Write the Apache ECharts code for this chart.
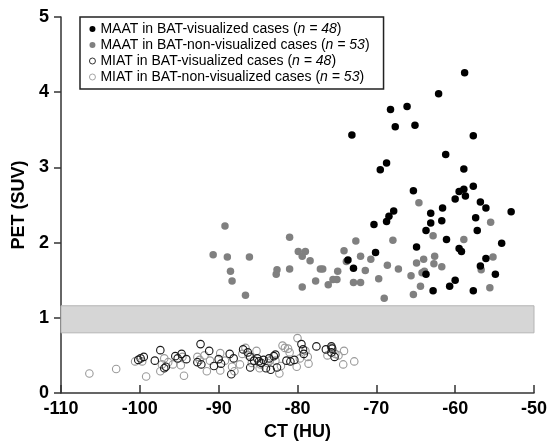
<!DOCTYPE html>
<html lang="en">
<head>
    <meta charset="UTF-8">
    <title>PET vs CT</title>
    <script src="https://cdn.jsdelivr.net/npm/echarts@6/dist/echarts.min.js"></script>
    <style>
        body{ margin:0; background:#ffffff; }
        #chart{ width:548px; height:444px; }
    </style>
</head>
<body>
<div id="chart"></div>
<script>
    // MAAT, BAT-visualized (black filled)
    var maatVisCT  = [-73.1,-68.2,-67.6,-66.1,-65.1,-62.1,-58.8,-57.7,-61.2,-69.5,-68.7,-58.9,-65.3,-59.5,-58.9,-58.7,-57.7,-60.0,-63.1,-61.6,-56.8,-56.1,-52.9,-67.8,-68.4,-68.7,-70.3,-63.1,-61.7,-63.7,-57.4,-57.2,-61.1,-64.9,-70.1,-59.5,-59.2,-54.1,-73.6,-72.9,-63.7,-56.1,-56.8,-54.9,-60.0,-60.7,-62.8,-57.7];
    var maatVisSUV = [3.43,3.77,3.54,3.81,3.56,3.98,4.26,3.42,3.17,2.97,3.06,2.98,2.69,2.68,2.71,2.62,2.75,2.58,2.39,2.46,2.54,2.46,2.41,2.42,2.35,2.28,2.24,2.26,2.29,2.16,2.33,2.16,2.04,1.94,1.87,1.92,1.88,1.99,1.77,1.66,1.58,1.79,1.69,1.58,1.50,1.42,1.36,1.36];

    // MAAT, BAT-non-visualized (gray filled)
    var maatNonCT  = [-89.2,-90.7,-88.9,-88.5,-88.3,-86.6,-86.1,-81.0,-82.6,-82.7,-81.0,-79.9,-79.4,-79.0,-78.4,-79.4,-77.7,-77.1,-76.8,-76.1,-75.5,-75.0,-74.9,-74.1,-73.8,-72.6,-72.0,-72.9,-72.0,-71.4,-70.7,-69.7,-69.0,-68.6,-67.9,-67.2,-65.6,-65.3,-64.9,-64.6,-64.4,-64.0,-63.9,-62.8,-62.6,-62.7,-61.7,-58.9,-56.7,-55.5,-55.2,-55.6,-64.2];
    var maatNonSUV = [2.22,1.84,1.81,1.62,1.49,1.30,1.81,2.07,1.64,1.58,1.65,1.88,1.82,1.88,1.76,1.41,1.49,1.65,1.65,1.44,1.51,1.51,1.62,1.89,1.75,2.02,1.82,1.47,1.47,1.63,1.78,1.52,1.26,1.70,2.03,1.65,1.56,1.31,1.73,2.53,1.42,1.78,1.62,2.09,1.82,1.72,1.68,2.04,1.64,2.27,1.81,1.40,1.60];

    // MIAT, BAT-visualized (black open)
    var miatVisCT  = [-99.9,-99.5,-98.1,-97.4,-96.9,-96.7,-95.5,-95.2,-94.7,-94.1,-92.7,-92.3,-92.2,-91.2,-90.6,-90.0,-89.7,-88.6,-88.4,-88.1,-86.9,-86.3,-86.0,-86.0,-85.5,-85.1,-84.9,-84.6,-84.3,-84.0,-83.6,-83.4,-83.0,-82.6,-82.8,-81.4,-80.9,-80.4,-79.5,-79.3,-79.2,-77.6,-76.4,-75.7,-75.6,-75.7,-75.3,-100.2];
    var miatVisSUV = [0.46,0.48,0.43,0.57,0.33,0.35,0.49,0.46,0.52,0.45,0.41,0.65,0.38,0.56,0.36,0.45,0.39,0.52,0.25,0.46,0.58,0.54,0.48,0.34,0.43,0.46,0.42,0.40,0.44,0.33,0.46,0.31,0.49,0.34,0.51,0.43,0.42,0.44,0.65,0.58,0.52,0.62,0.58,0.62,0.59,0.54,0.48,0.44];

    // MIAT, BAT-non-visualized (gray open)
    var miatNonCT  = [-106.4,-103.0,-100.6,-99.2,-99.7,-97.4,-96.9,-96.4,-95.8,-94.8,-94.4,-92.7,-92.4,-91.8,-91.5,-91.1,-89.8,-89.8,-89.2,-88.3,-88.0,-87.3,-86.6,-86.2,-85.2,-84.8,-84.7,-83.8,-82.8,-82.3,-82.1,-81.9,-81.6,-81.2,-81.0,-80.0,-80.1,-79.7,-79.0,-78.7,-75.7,-75.2,-74.8,-74.1,-74.2,-72.8,-94.6,-97.2,-87.0,-83.5,-78.6,-76.2,-85.8];
    var miatNonSUV = [0.26,0.32,0.42,0.22,0.42,0.29,0.46,0.41,0.38,0.37,0.23,0.48,0.44,0.50,0.29,0.43,0.53,0.30,0.43,0.35,0.29,0.38,0.60,0.50,0.56,0.33,0.38,0.40,0.43,0.26,0.36,0.63,0.60,0.59,0.54,0.73,0.35,0.46,0.56,0.48,0.60,0.52,0.50,0.56,0.38,0.42,0.48,0.38,0.52,0.43,0.39,0.50,0.40];

    var seriesNames = [
        'MAAT in BAT-visualized cases',
        'MAAT in BAT-non-visualized cases',
        'MIAT in BAT-visualized cases',
        'MIAT in BAT-non-visualized cases'
    ];
    var seriesCounts = ['48', '53', '48', '53'];

    // shaded band on the PET axis
    var bandLow = 0.8;
    var bandHigh = 1.16;

    function pairs(xs, ys){
        var out = [];
        for (var i = 0; i < xs.length; i++) out.push([xs[i], ys[i]]);
        return out;
    }

    var chart = echarts.init(document.getElementById('chart'));

    var fontFamily = '"Liberation Sans", Arial, sans-serif';

    var option = {
        animation: false,
        grid: { left: 61, right: 14, top: 17, bottom: 51, outerBoundsMode: 'none' },
        legend: {
            data: [
                { name: seriesNames[0] },
                { name: seriesNames[1] },
                { name: seriesNames[2], itemStyle: { borderWidth: 0.9 } },
                { name: seriesNames[3], itemStyle: { borderWidth: 0.9 } }
            ],
            orient: 'vertical',
            left: 80,
            top: 17,
            padding: [5, 14, 5, 9],
            itemGap: 2,
            itemWidth: 6,
            itemHeight: 6,
            borderColor: '#222',
            borderWidth: 1.5,
            backgroundColor: '#fff',
            formatter: function (name) {
                var idx = seriesNames.indexOf(name);
                return '{t|' + name + ' (}{i|n = ' + seriesCounts[idx] + '}{t|)}';
            },
            textStyle: {
                fontFamily: fontFamily,
                fontSize: 14,
                color: '#000',
                rich: {
                    t: { fontFamily: fontFamily, fontSize: 14, color: '#000', lineHeight: 16 },
                    i: { fontFamily: fontFamily, fontSize: 14, color: '#000', fontStyle: 'italic', lineHeight: 16 }
                }
            }
        },
        xAxis: {
            type: 'value',
            min: -110,
            max: -50,
            interval: 10,
            name: 'CT (HU)',
            nameLocation: 'middle',
            nameGap: 30,
            nameTextStyle: { fontFamily: fontFamily, fontSize: 18, fontWeight: 'bold', color: '#000' },
            axisLine: { lineStyle: { color: '#333', width: 1.5 } },
            axisTick: { inside: true, length: 8, lineStyle: { color: '#333', width: 1.5 } },
            axisLabel: { margin: 7, fontFamily: fontFamily, fontSize: 18, fontWeight: 'bold', color: '#000' },
            splitLine: { show: false }
        },
        yAxis: {
            type: 'value',
            min: 0,
            max: 5,
            interval: 1,
            name: 'PET (SUV)',
            nameLocation: 'middle',
            nameGap: 28,
            nameTextStyle: { fontFamily: fontFamily, fontSize: 18, fontWeight: 'bold', color: '#000' },
            axisLine: { show: true, lineStyle: { color: '#333', width: 1.5 } },
            axisTick: { show: true, length: 7, lineStyle: { color: '#333', width: 1.5 } },
            axisLabel: { margin: 12, fontFamily: fontFamily, fontSize: 18, fontWeight: 'bold', color: '#000' },
            splitLine: { show: false }
        },
        series: [
            {
                name: seriesNames[0],
                type: 'scatter',
                symbolSize: 7.5,
                z: 5,
                itemStyle: { color: '#000', opacity: 1 },
                data: pairs(maatVisCT, maatVisSUV)
            },
            {
                name: seriesNames[1],
                type: 'scatter',
                symbolSize: 7.5,
                z: 4,
                itemStyle: { color: '#808080', opacity: 1 },
                data: pairs(maatNonCT, maatNonSUV)
            },
            {
                name: seriesNames[2],
                type: 'scatter',
                symbolSize: 7.5,
                z: 4,
                itemStyle: { color: 'rgba(255,255,255,0)', borderColor: '#1a1a1a', borderWidth: 1.1, opacity: 1 },
                data: pairs(miatVisCT, miatVisSUV)
            },
            {
                name: seriesNames[3],
                type: 'scatter',
                symbolSize: 7.5,
                z: 3,
                itemStyle: { color: 'rgba(255,255,255,0)', borderColor: '#9a9a9a', borderWidth: 1.1, opacity: 1 },
                data: pairs(miatNonCT, miatNonSUV)
            },
            {
                name: 'band',
                type: 'scatter',
                data: [],
                z: 1,
                markArea: {
                    silent: true,
                    itemStyle: { color: '#d6d6d6', borderColor: '#b5b5b5', borderWidth: 1 },
                    data: [[{ xAxis: -110, yAxis: bandLow }, { xAxis: -50, yAxis: bandHigh }]]
                }
            }
        ]
    };

    chart.setOption(option);
</script>
</body>
</html>
